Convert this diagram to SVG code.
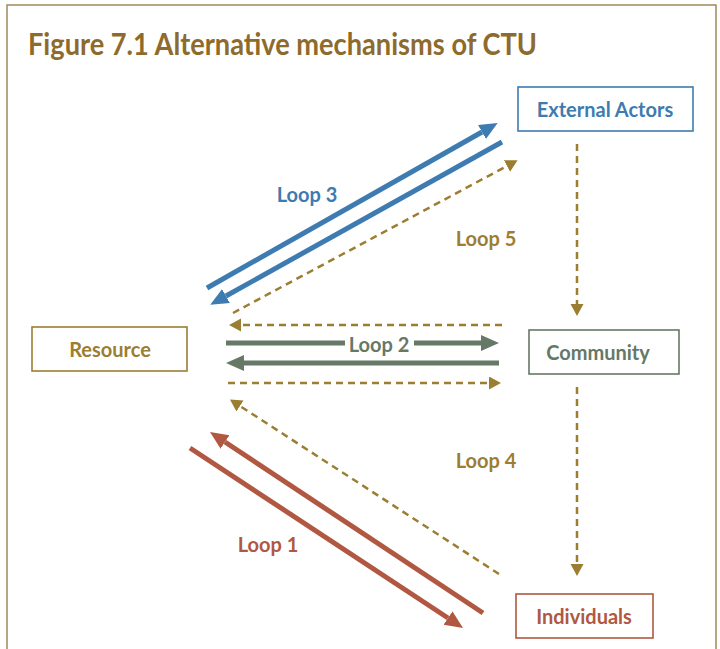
<svg xmlns="http://www.w3.org/2000/svg" width="720" height="649" viewBox="0 0 720 649">
<defs>
<style>
.title{font-family:"Lato","Open Sans",sans-serif;font-size:30px;font-weight:700;fill:#8E6B2D}
.lbl{font-family:"Lato","Open Sans",sans-serif;font-size:20px;font-weight:700;text-anchor:middle}
.box{fill:#fff;stroke-width:1.6}
.dash{stroke:#9C7E32;stroke-width:2.5;stroke-dasharray:7 5;fill:none}
.blue{stroke:#3E7BB0;stroke-width:5;fill:none}
.green{stroke:#667866;stroke-width:5;fill:none}
.red{stroke:#B05842;stroke-width:5;fill:none}
</style>
<marker id="aB" markerUnits="userSpaceOnUse" markerWidth="20" markerHeight="18" refX="0" refY="8" orient="auto"><path d="M0,0 L18,8 L0,16 z" fill="#3E7BB0"/></marker>
<marker id="aG" markerUnits="userSpaceOnUse" markerWidth="20" markerHeight="18" refX="0" refY="8" orient="auto"><path d="M0,0 L18,8 L0,16 z" fill="#667866"/></marker>
<marker id="aR" markerUnits="userSpaceOnUse" markerWidth="20" markerHeight="18" refX="0" refY="8" orient="auto"><path d="M0,0 L18,8 L0,16 z" fill="#B05842"/></marker>
<marker id="aD" markerUnits="userSpaceOnUse" markerWidth="14" markerHeight="14" refX="0" refY="6.5" orient="auto"><path d="M0,0 L12,6.5 L0,13 z" fill="#9C7E32"/></marker>
</defs>
<rect x="0" y="0" width="720" height="649" fill="#fff"/>
<path d="M7,649 V5 H716 V649" fill="none" stroke="#A38A5C" stroke-width="1.5"/>
<text class="title" x="28" y="55" textLength="509" lengthAdjust="spacingAndGlyphs">Figure 7.1 Alternative mechanisms of CTU</text>

<g id="connectors">
<line class="blue" x1="207" y1="288" x2="482" y2="132" marker-end="url(#aB)"/>
<line class="blue" x1="502" y1="142" x2="226" y2="296" marker-end="url(#aB)"/>
<line class="dash" x1="233" y1="313" x2="507" y2="166" marker-end="url(#aD)"/>
<line class="dash" x1="502" y1="325" x2="241" y2="325" marker-end="url(#aD)"/>
<line class="green" x1="226" y1="343" x2="345" y2="343"/>
<line class="green" x1="414" y1="343" x2="481" y2="343" marker-end="url(#aG)"/>
<line class="green" x1="499" y1="363" x2="244" y2="363" marker-end="url(#aG)"/>
<line class="dash" x1="228" y1="383" x2="489" y2="383" marker-end="url(#aD)"/>
<line class="dash" x1="499" y1="574" x2="240" y2="406" marker-end="url(#aD)"/>
<line class="red" x1="483" y1="613" x2="225" y2="442" marker-end="url(#aR)"/>
<line class="red" x1="190" y1="448" x2="448" y2="618" marker-end="url(#aR)"/>
<line class="dash" x1="577" y1="144" x2="577" y2="304" marker-end="url(#aD)"/>
<line class="dash" x1="577" y1="387" x2="577" y2="564" marker-end="url(#aD)"/>
<text class="lbl" x="307" y="202" fill="#3E7BB0">Loop 3</text>
<text class="lbl" x="486" y="246" fill="#9C7E32">Loop 5</text>
<text class="lbl" x="379" y="352" fill="#667866">Loop 2</text>
<text class="lbl" x="486" y="468" fill="#9C7E32">Loop 4</text>
<text class="lbl" x="268" y="552" fill="#B05842">Loop 1</text>
</g>

<g id="external-actors">
<rect class="box" x="518" y="87" width="175" height="44" stroke="#3E7BB0"/>
<text class="lbl" x="605" y="117" fill="#3E7BB0">External Actors</text>
</g>
<g id="resource">
<rect class="box" x="32" y="327" width="155" height="44" stroke="#9C7E32"/>
<text class="lbl" x="110" y="357" fill="#9C7E32">Resource</text>
</g>
<g id="community">
<rect class="box" x="529" y="330" width="150" height="44" stroke="#667866"/>
<text class="lbl" x="598" y="360" fill="#667866">Community</text>
</g>
<g id="individuals">
<rect class="box" x="516" y="594" width="137" height="44" stroke="#B05842"/>
<text class="lbl" x="584" y="624" fill="#B05842">Individuals</text>
</g>
</svg>
